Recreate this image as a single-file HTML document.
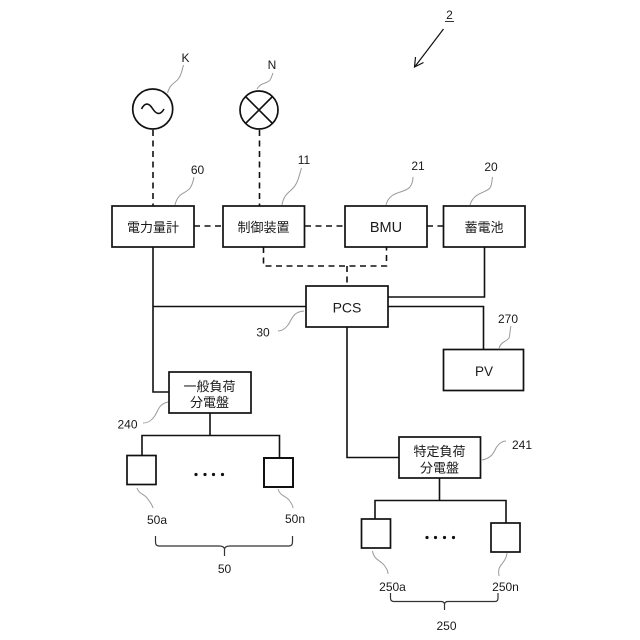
<!DOCTYPE html>
<html><head><meta charset="utf-8">
<style>
html,body{margin:0;padding:0;background:#fff}
svg{display:block}
text{font-family:"Liberation Sans","Noto Sans CJK JP",sans-serif;fill:#1a1a1a;font-size:12px;text-anchor:middle}
.t{font-size:13px}
.b{fill:#fff;stroke:#111;stroke-width:1.7}
.l{fill:none;stroke:#111;stroke-width:1.6}
.d{fill:none;stroke:#111;stroke-width:1.6;stroke-dasharray:6 4.5}
.g{fill:none;stroke:#999;stroke-width:1}
.k{fill:none;stroke:#333;stroke-width:1.2}
</style></head><body>
<svg width="640" height="640" viewBox="0 0 640 640" xmlns="http://www.w3.org/2000/svg">
<!-- solid lines -->
<path class="l" d="M153 247V392H169"/>
<path class="l" d="M153 306.500H306"/>
<path class="l" d="M484.500 247V297H388"/>
<path class="l" d="M388 306.500H483.500V349"/>
<path class="l" d="M347 327V457.500H399"/>
<path class="l" d="M210 413V435.500M142 456V435.500H279.500V458"/>
<path class="l" d="M439.500 478V500.500M375 519V500.500H506V523"/>
<!-- dashed lines -->
<path class="d" d="M153 130V206"/>
<path class="d" d="M259.500 130V206"/>
<path class="d" d="M194 226H223"/>
<path class="d" d="M305 226H345"/>
<path class="d" d="M427 226H443"/>
<path class="d" d="M263.500 247V266H386.500V247"/>
<path class="d" d="M347 266V286"/>
<!-- circles -->
<circle class="b" cx="152.700" cy="109" r="20"/>
<path class="l" d="M141.500 109C145 102 149 103 152.500 108.500C156 114 160 116 164 109"/>
<circle class="b" cx="259" cy="110" r="19"/>
<path class="l" d="M245.500 96.500L272.500 123.500M272.500 96.500L245.500 123.500"/>
<!-- boxes -->
<rect class="b" x="112" y="206" width="82" height="41"/>
<rect class="b" x="223" y="206" width="81.500" height="41"/>
<rect class="b" x="345" y="206" width="82" height="41"/>
<rect class="b" x="443.500" y="206" width="81.500" height="41"/>
<rect class="b" x="306" y="286" width="82" height="41"/>
<rect class="b" x="443.500" y="349.500" width="80" height="41"/>
<rect class="b" x="169" y="372" width="82" height="41"/>
<rect class="b" x="399" y="437" width="81.500" height="41"/>
<rect class="b" x="127" y="455.500" width="29" height="29"/>
<rect class="b" x="264" y="458" width="29" height="29" style="stroke-width:2"/>
<rect class="b" x="361.500" y="519" width="29" height="29"/>
<rect class="b" x="491" y="523" width="29" height="29"/>
<!-- box labels -->
<text class="t" x="153" y="232">電力量計</text>
<text class="t" x="263.500" y="232">制御装置</text>
<text x="386" y="232" style="font-size:14.500px">BMU</text>
<text class="t" x="484" y="232">蓄電池</text>
<text x="347" y="312.500" style="font-size:14px">PCS</text>
<text x="484" y="376" style="font-size:13.500px">PV</text>
<text class="t" x="209.500" y="391">一般負荷</text>
<text class="t" x="209.500" y="407">分電盤</text>
<text class="t" x="439.500" y="456">特定負荷</text>
<text class="t" x="439.500" y="472.500">分電盤</text>
<!-- leaders -->
<path class="g" d="M167.500 93C171 82 175 84 179 78C182 73 182 70 183.500 65"/>
<path class="g" d="M257 89C261 82 267 84 270 80C272 77 272 75 273 73"/>
<path class="g" d="M175 205C178 192 186 194 190 188C193 184 193 181 194 177"/>
<path class="g" d="M282 205C284 192 292 192 296 184C299 179 300 172 301.500 168"/>
<path class="g" d="M386 205C390 190 404 194 410 187C412 184 413 180 413 177"/>
<path class="g" d="M470 205C474 192 484 194 490 188C492 185 492 180 492.500 177"/>
<path class="g" d="M304 311C292 312 292 320 288 325C285 329 282 331 278 331"/>
<path class="g" d="M168 402C158 404 158 412 154 417C151 421 148 423 143 423"/>
<path class="g" d="M499 349C500 342 506 342 509 338C510 336 510 329 511 326"/>
<path class="g" d="M482 460C492 458 494 452 496 448C499 443 503 441 506 441"/>
<path class="g" d="M137 488C139 494 144 494 147 498C150 502 152 504 153 508"/>
<path class="g" d="M278 489C280 496 286 496 289 500C292 504 293 506 293 508"/>
<path class="g" d="M372.500 551C374 560 380 560 384 565C387 569 388 571 388 574"/>
<path class="g" d="M507 553C506 562 500 564 499 569C498 572 499 574 499 576"/>
<!-- brackets -->
<path class="k" d="M155.500 536V542Q155.500 546 159 546H219Q224 546 224.500 549Q225 546 230 546H289Q292.500 546 292.500 542V536M224.500 549V556"/>
<path class="k" d="M390.500 593V598Q390.500 601.500 394 601.500H441Q444 601.500 444.500 604Q445 601.500 448 601.500H495Q498 601.500 498 598V593M444.500 604V610"/>
<!-- dots -->
<g fill="#111">
<circle cx="196" cy="474.500" r="1.600"/><circle cx="205" cy="474.500" r="1.600"/><circle cx="213.500" cy="474.500" r="1.600"/><circle cx="222.500" cy="474.500" r="1.600"/>
<circle cx="427" cy="537.500" r="1.600"/><circle cx="435.500" cy="537.500" r="1.600"/><circle cx="444.500" cy="537.500" r="1.600"/><circle cx="453.500" cy="537.500" r="1.600"/>
</g>
<!-- reference labels -->
<text x="185.500" y="62">K</text>
<text x="272" y="69">N</text>
<text x="197.500" y="174">60</text>
<text x="304" y="164">11</text>
<text x="418" y="170">21</text>
<text x="491" y="171">20</text>
<text x="263" y="336.500">30</text>
<text x="127.500" y="428.500">240</text>
<text x="508" y="323">270</text>
<text x="522" y="449">241</text>
<text x="157" y="524">50a</text>
<text x="295" y="523">50n</text>
<text x="224.500" y="573">50</text>
<text x="392.500" y="591">250a</text>
<text x="505.500" y="591">250n</text>
<text x="446.500" y="630">250</text>
<text x="449.500" y="19">2</text>
<path d="M445 21.500H454" stroke="#333" stroke-width="1"/>
<!-- arrow 2 -->
<path class="l" d="M443.500 29L415 66.500" style="stroke-width:1.200"/>
<path class="l" d="M423.500 62.500L414.500 67L415.500 57" style="stroke-width:1.200"/>
</svg>
</body></html>
